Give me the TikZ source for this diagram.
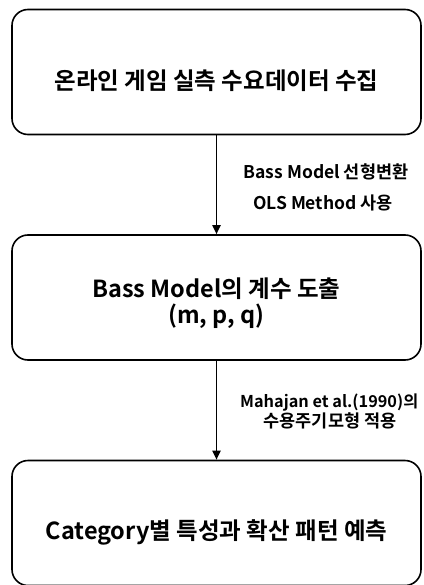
\documentclass[tikz,border=0pt]{standalone}
\usepackage{fontspec}
\setmainfont{Noto Sans CJK KR}
\newfontfamily\krb{Noto Sans CJK KR Bold}
\usetikzlibrary{arrows.meta}
\begin{document}
\begin{tikzpicture}[x=1pt,y=-1pt,
  stagebox/.style={draw, line width=1.6pt, rounded corners=16pt, minimum width=409pt, minimum height=125pt, align=center, inner sep=0pt},
  boxtext/.style={font=\krb\fontsize{23.5}{23}\selectfont},
  arr/.style={line width=1.8pt, -{Triangle[length=9pt,width=8pt]}},
  lbl/.style={font=\krb\fontsize{17.5}{18}\selectfont, inner sep=0pt}]
\useasboundingbox (0,0) rectangle (423,585);
\node[stagebox, boxtext] (b1) at (216.5,72) {\raisebox{-18pt}[0pt][0pt]{온라인 게임 실측 수요데이터 수집}};
\node[stagebox, boxtext] (b2) at (216.5,297.5) {\raisebox{-13pt}[0pt][0pt]{\begin{tabular}{@{}c@{}}Bass Model의 계수 도출\\(m, p, q)\end{tabular}}};
\node[stagebox, boxtext] (b3) at (216.5,523) {\raisebox{-16pt}[0pt][0pt]{Category별 특성과 확산 패턴 예측}};
\draw[arr] (b1.south) -- (b2.north);
\draw[arr] (b2.south) -- (b3.north);
\node[lbl] (l1) at (326,172) {Bass Model 선형변환};
\node[lbl] (l2) at (323,203) {OLS Method 사용};
\node[lbl, anchor=west, font=\krb\fontsize{16.3}{18}\selectfont] (l3) at (240,403) {Mahajan et al.(1990)의};
\node[lbl] (l4) at (330,421) {수용주기모형 적용};
\end{tikzpicture}
\end{document}
